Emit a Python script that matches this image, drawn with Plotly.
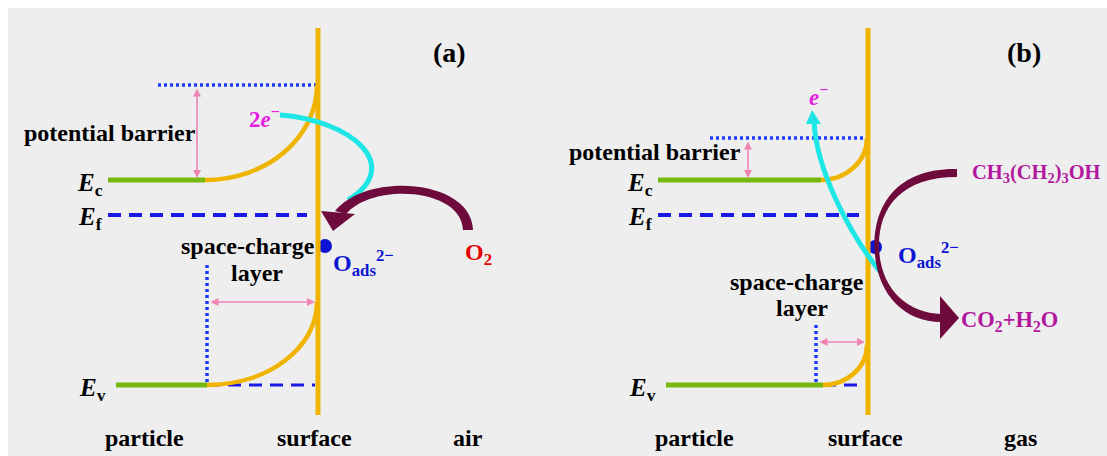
import plotly.graph_objects as go

# ---------------- diagram data (pixel frame: x 0..1107, y 0..456 downward) -------------
W, H = 1107, 456
FONT = "Liberation Serif, Times New Roman, serif"

# colours
C_BG = "#eeeeee"
C_ORANGE = "#f0b400"
C_GREEN = "#76b80e"
C_BLUE = "#1a1ae6"
C_DOT = "#1e3cff"
C_PINK = "#ee85b5"
C_CYAN = "#1ee6e6"
C_MAROON = "#6e0b3c"
C_MAG = "#e620e0"
C_PURPLE = "#b3179f"
C_RED = "#e60000"
C_OADS = "#0a14d2"

# panel (a) / (b) geometry
surface_x = [318, 868]
surface_y = [28, 415]
level_Ec = 180
level_Ef = 215
level_Ev = 385
barrier_top = [85, 138]
green_Ec_x = [[108, 205], [658, 821]]
green_Ev_x = [[116, 207], [666, 823]]
ef_x = [[108, 307], [658, 859]]
ev_dash_x = [[207, 315], [823, 863]]
barrier_dot_x = [[158, 316], [710, 866]]
scl_dot_x = [207, 816]
scl_dot_top = [265, 325]
lower_curve_top = [302, 345]
pink_v_x = [197, 748]
pink_h_y = [302, 342]
dot_center = [(325, 246), (875, 247)]
dot_r = 7

fig = go.Figure()
shapes = []
ann = []

def line(x0, y0, x1, y1, color, width, dash="solid"):
    shapes.append(dict(type="line", xref="x", yref="y", x0=x0, y0=y0, x1=x1, y1=y1,
                       line=dict(color=color, width=width, dash=dash)))

def path(d, color=None, width=0, fill=None):
    s = dict(type="path", xref="x", yref="y", path=d,
             line=dict(color=color if color else "rgba(0,0,0,0)", width=width))
    if fill:
        s["fillcolor"] = fill
    shapes.append(s)

def quarter(x0, y0, x1, y1):
    # quarter ellipse: horizontal tangent at (x0,y0), vertical tangent at (x1,y1)
    k = 0.5523
    a, b = x1 - x0, y0 - y1
    return f"M {x0},{y0} C {x0 + k*a},{y0} {x1},{y1 + k*b} {x1},{y1}"

def text(x, y, t, size=24, color="black", xanchor="center"):
    ann.append(dict(x=x, y=y, xref="x", yref="y", text=t, showarrow=False,
                    xanchor=xanchor, yanchor="middle",
                    font=dict(family=FONT, size=size, color=color)))

def pink_arrow(x0, y0, x1, y1):
    ann.append(dict(x=x1, y=y1, ax=x0, ay=y0, xref="x", yref="y", axref="x", ayref="y",
                    text="", showarrow=True, arrowhead=2, startarrowhead=2,
                    arrowside="end+start", arrowsize=1, startarrowsize=1,
                    arrowwidth=1.6, arrowcolor=C_PINK, standoff=0, startstandoff=0))

# background panel
shapes.append(dict(type="rect", xref="x", yref="y", x0=8, y0=8, x1=W, y1=H,
                   fillcolor=C_BG, line=dict(width=0), layer="below"))

for i in range(2):
    sx = surface_x[i]
    # dotted barrier top
    line(barrier_dot_x[i][0], barrier_top[i], barrier_dot_x[i][1], barrier_top[i], C_DOT, 3.5, "3px,3px")
    # Fermi level dashed
    line(ef_x[i][0], level_Ef, ef_x[i][1], level_Ef, C_BLUE, 4, "13px,8px")
    # Ev dashed extension
    line(ev_dash_x[i][0], level_Ev, ev_dash_x[i][1], level_Ev, C_BLUE, 3, "13px,8px")
    # space-charge dotted vertical
    line(scl_dot_x[i], scl_dot_top[i], scl_dot_x[i], level_Ev, C_DOT, 3.5, "3px,3px")
    # green bands
    line(green_Ec_x[i][0], level_Ec, green_Ec_x[i][1], level_Ec, C_GREEN, 5)
    line(green_Ev_x[i][0], level_Ev, green_Ev_x[i][1], level_Ev, C_GREEN, 5)
    # band bending curves
    path(quarter(green_Ec_x[i][1], level_Ec, sx - 1, barrier_top[i]), C_ORANGE, 4.5)
    path(quarter(green_Ev_x[i][1], level_Ev, sx - 1, lower_curve_top[i]), C_ORANGE, 4.5)
    # adsorbed oxygen dot
    cx, cy = dot_center[i]
    shapes.append(dict(type="circle", xref="x", yref="y", x0=cx - dot_r, x1=cx + dot_r,
                       y0=cy - dot_r, y1=cy + dot_r, fillcolor=C_OADS, line=dict(width=0)))
    # surface
    line(sx, surface_y[0], sx, surface_y[1], C_ORANGE, 5)
    # pink double arrows
    pink_arrow(pink_v_x[i], barrier_top[i] + 2, pink_v_x[i], level_Ec - 2)
    pink_arrow(scl_dot_x[i] + 2, pink_h_y[i], sx - 3, pink_h_y[i])

# panel (a): electron capture
path("M 280,115 C 350,120 405,165 348,200", C_CYAN, 5)
path("M 473,230 C 472,179 367,171 335,211 L 346,214 C 373,182 462,188 463,230 Z",
     fill=C_MAROON)
path("M 321,211 L 355,214 L 333,231 Z", fill=C_MAROON)

# panel (b): electron release
path("M 882,274 C 850,235 816,170 814,121", C_CYAN, 5)
path("M 806,124 L 821,124 L 812,110 Z", fill=C_CYAN)
path("M 957,169 C 898,168 874.5,204 874.5,245 C 874.5,292 903,322 941,322 "
     "L 941,314 C 907,313 879,288 879,245 C 879,207 902,177 957,177 Z", fill=C_MAROON)
path("M 940,296 L 940,339 L 959,318 Z", fill=C_MAROON)

# ---------------- labels ----------------
text(449, 52, "<b>(a)</b>", 28)
text(1024, 52, "<b>(b)</b>", 28)
text(110, 133, "<b>potential barrier</b>")
text(655, 152, "<b>potential barrier</b>")
for xr in (105, 655):
    text(xr, 184, "<b><i>E</i><sub>c</sub></b>", 25, xanchor="right")
    text(xr - 1, 218, "<b><i>E</i><sub>f</sub></b>", 25, xanchor="right")
    text(xr + 3, 389, "<b><i>E</i><sub>v</sub></b>", 25, xanchor="right")
text(248, 246, "<b>space-charge</b>")
text(257, 273, "<b>layer</b>")
text(797, 282, "<b>space-charge</b>")
text(802, 308, "<b>layer</b>")
text(331, 263, "<b>O<sub>ads</sub><sup>2−</sup></b>", 24, C_OADS, "left")
text(896, 255, "<b>O<sub>ads</sub><sup>2−</sup></b>", 24, C_OADS, "left")
text(478, 254, "<b>O<sub>2</sub></b>", 24, C_RED)
text(264, 117, "<b>2<i>e</i><sup>−</sup></b>", 23, C_MAG)
text(818, 95, "<b><i>e</i><sup>−</sup></b>", 23, C_MAG)
text(970, 173, "<b>CH<sub>3</sub>(CH<sub>2</sub>)<sub>3</sub>OH</b>", 20.5, C_PURPLE, "left")
text(959, 321, "<b>CO<sub>2</sub>+H<sub>2</sub>O</b>", 22.5, C_PURPLE, "left")
bottom_labels = ["particle", "surface", "air", "particle", "surface", "gas"]
bottom_x = [144, 314, 468, 694, 865, 1020]
for lab, bx in zip(bottom_labels, bottom_x):
    text(bx, 438, f"<b>{lab}</b>")

fig.update_layout(
    width=W, height=H, autosize=False,
    margin=dict(l=0, r=0, t=0, b=0),
    paper_bgcolor="white", plot_bgcolor="white",
    xaxis=dict(range=[0, W], visible=False, fixedrange=True),
    yaxis=dict(range=[H, 0], visible=False, fixedrange=True),
    shapes=shapes, annotations=ann, showlegend=False,
)
fig.write_html(
    "out.html",
    config={"displayModeBar": False},
    post_script="document.body.style.margin='0';document.body.style.overflow='hidden';",
)
